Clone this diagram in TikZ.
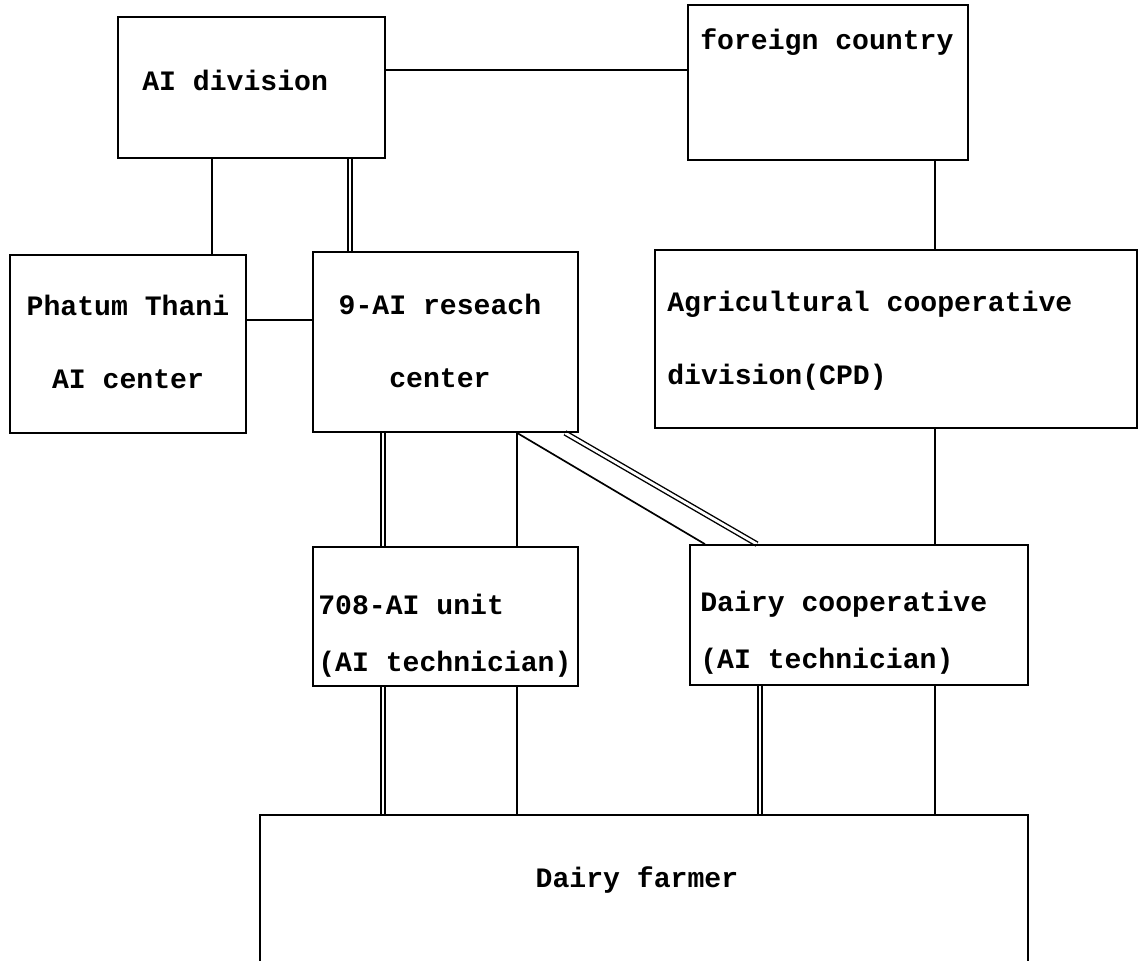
\documentclass[tikz,border=0pt]{standalone}
\usepackage{fontspec}
\setmonofont{Liberation Mono}
\usetikzlibrary{backgrounds}

\begin{document}
\begin{tikzpicture}[x=0.025cm, y=-0.025cm,
      unit/.style={draw, line width=1.2pt, inner sep=0pt},
      lbl/.style={font=\ttfamily\bfseries\fontsize{20}{52}\selectfont, inner sep=0pt},
      lbllow/.style={font=\ttfamily\bfseries\fontsize{20}{40.5}\selectfont, inner sep=0pt},
      link/.style={line width=1.2pt},
      dlink/.style={line width=1pt, double, double distance=2pt}]
    \useasboundingbox (0,0) rectangle (1139,961);
    \clip (0,0) rectangle (1139,961);
    % boxes
    \node[unit, minimum width=6.675cm, minimum height=3.525cm] (aidiv) at (251.5,87.5) {};
    \node[unit, minimum width=7.0cm, minimum height=3.875cm] (foreign) at (828,82.5) {};
    \node[unit, minimum width=5.9cm, minimum height=4.45cm] (phatum) at (128,344) {};
    \node[unit, minimum width=6.625cm, minimum height=4.5cm] (research) at (445.5,342) {};
    \node[unit, minimum width=12.05cm, minimum height=4.45cm] (cpd) at (896,339) {};
    \node[unit, minimum width=6.625cm, minimum height=3.475cm] (aiunit) at (445.5,616.5) {};
    \node[unit, minimum width=8.45cm, minimum height=3.5cm] (dcoop) at (859,615) {};
    \node[unit, minimum width=19.2cm, minimum height=4.0cm] (farmer) at (644,895) {};
    % texts
    \node[lbl, anchor=west] (aidivText) at (142,80) {AI division};
    \node[lbl, anchor=west] (foreignText) at (700,42) {foreign country};
    \node[lbl, align=center] (phatumText) at (128,342) {Phatum Thani\\AI center};
    \node[lbl, align=center] (researchText) at (440,341) {9-AI reseach\\center};
    \node[lbl, anchor=west, align=left] (cpdText) at (667,341) {Agricultural cooperative\\division(CPD)};
    \node[lbllow, anchor=west, align=left] (aiunitText) at (318,636) {708-AI unit\\(AI technician)};
    \node[lbllow, anchor=west, align=left] (dcoopText) at (700,633) {Dairy cooperative\\(AI technician)};
    \node[lbl] (farmerText) at (637,880) {Dairy farmer};
    % where the lines run
    \coordinate (ytop) at (0,70);
    \coordinate (ymid) at (0,320);
    \coordinate (xphat) at (212,0);
    \coordinate (xres) at (350,0);
    \coordinate (xfor) at (935,0);
    \coordinate (xleft) at (383,0);
    \coordinate (xright) at (517,0);
    \coordinate (xdiag) at (565,0);
    \coordinate (xdiagS) at (705,0);
    \coordinate (xdiagD) at (757,0);
    \coordinate (xcoop) at (760,0);
    \begin{scope}[on background layer]
      \draw[link] (aidiv.east |- ytop) -- (foreign.west |- ytop);
      \draw[link] (aidiv.south -| xphat) -- (phatum.north -| xphat);
      \draw[dlink] (aidiv.south -| xres) -- (research.north -| xres);
      \draw[link] (phatum.east |- ymid) -- (research.west |- ymid);
      \draw[link] (foreign.south -| xfor) -- (cpd.north -| xfor);
      \draw[link] (cpd.south -| xfor) -- (dcoop.north -| xfor);
      \draw[dlink] (research.south -| xleft) -- (aiunit.north -| xleft);
      \draw[link] (research.south -| xright) -- (aiunit.north -| xright);
      \draw[link] (research.south -| xright) -- (dcoop.north -| xdiagS);
      \draw[dlink] (research.south -| xdiag) -- (dcoop.north -| xdiagD);
      \draw[dlink] (aiunit.south -| xleft) -- (farmer.north -| xleft);
      \draw[link] (aiunit.south -| xright) -- (farmer.north -| xright);
      \draw[dlink] (dcoop.south -| xcoop) -- (farmer.north -| xcoop);
      \draw[link] (dcoop.south -| xfor) -- (farmer.north -| xfor);
    \end{scope}
  \end{tikzpicture}
\end{document}
